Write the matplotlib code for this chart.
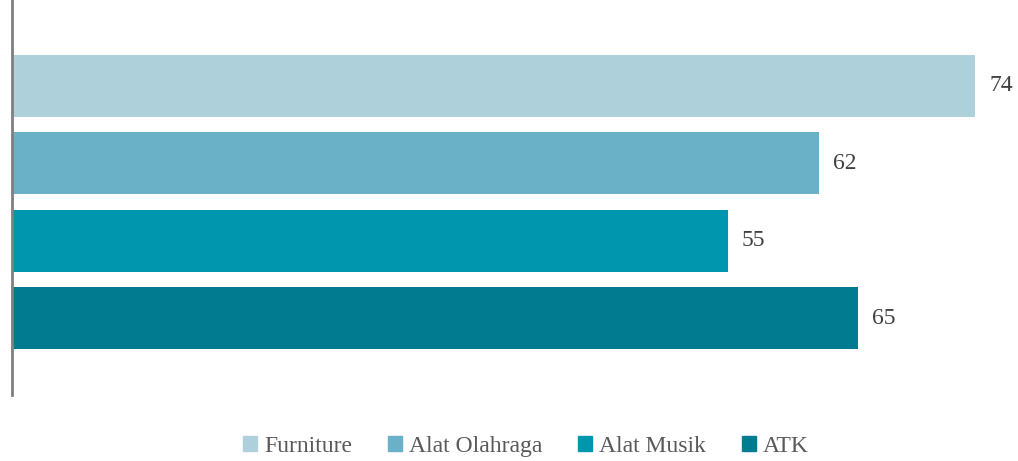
import matplotlib.pyplot as plt
from matplotlib.patches import Patch

# Data
categories = ['Furniture', 'Alat Olahraga', 'Alat Musik', 'ATK']
values = [74, 62, 55, 65]
colors = ['#aed0db', '#6ab1c7', '#0097ae', '#017b90']

plt.rcParams['font.family'] = ['Liberation Serif', 'DejaVu Serif']

fig = plt.figure(figsize=(10.18, 4.61), dpi=100)
ax = fig.add_axes([12 / 1018, 1 - 395 / 461, 998 / 1018, 395 / 461])

ypos = [3, 2, 1, 0]
for y, v, c in zip(ypos, values, colors):
    ax.barh(y, v, height=0.8, color=c)
    ax.text(v + 1.1, y, str(v), va='center', ha='left', fontsize=17, color='#404040')

ax.set_xlim(0, 998 / 13.01)
ax.set_ylim(-0.99, 4.11)

for side in ['top', 'right', 'bottom']:
    ax.spines[side].set_visible(False)
ax.spines['left'].set_color('#7f7f7f')
ax.spines['left'].set_linewidth(2)
ax.set_xticks([])
ax.set_yticks([])

handles = [Patch(color=c, label=l) for c, l in zip(colors, categories)]
leg = fig.legend(handles=handles, loc='center', bbox_to_anchor=(526 / 1018, 1 - 446 / 461),
                 ncol=4, frameon=False, fontsize=17, handlelength=0.6, handleheight=0.6,
                 handletextpad=0.3, columnspacing=1.5)
for t in leg.get_texts():
    t.set_color('#595959')

fig.savefig('out.png', dpi=100)
